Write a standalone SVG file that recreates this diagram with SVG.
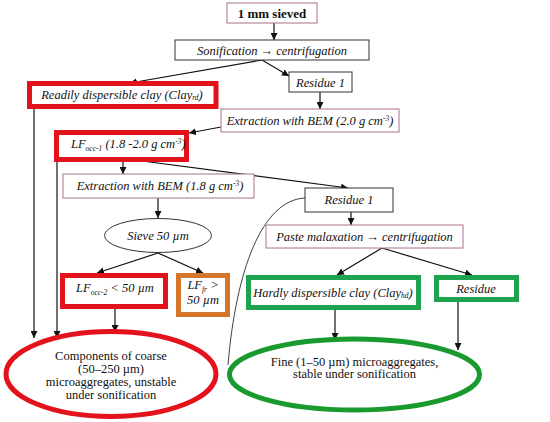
<svg xmlns="http://www.w3.org/2000/svg" width="550" height="422" viewBox="0 0 550 422">
<style>
.bx{fill:#fff;stroke:#a8708a;stroke-width:1}
.gb{fill:#fff;stroke:#333;stroke-width:1}
.red{fill:#fff;stroke:#e3121b;stroke-width:5}
.org{fill:#fff;stroke:#d5762a;stroke-width:5}
.grn{fill:#fff;stroke:#1fa34f;stroke-width:5}
text{font-family:'Liberation Serif','DejaVu Serif','Times New Roman',serif}
.t{font-style:italic;font-size:12.5px;fill:#111;text-anchor:middle}
.n{font-size:12.5px;fill:#111;text-anchor:middle}
.c line,.c path{stroke:#111;stroke-width:1.2;fill:none}
</style>
<defs>
<marker id="ah" viewBox="0 0 10 10" refX="10" refY="5" markerWidth="7" markerHeight="7" markerUnits="userSpaceOnUse" orient="auto">
<path d="M0,0 L10,5 L0,10 z" fill="#111"/>
</marker>
</defs>
<rect width="550" height="422" fill="#fff"/>
<g class="c">
<line x1="274" y1="23" x2="274" y2="40" marker-end="url(#ah)"/>
<line x1="262" y1="60" x2="130" y2="83" marker-end="url(#ah)"/>
<line x1="262" y1="60" x2="289" y2="76" marker-end="url(#ah)"/>
<line x1="320" y1="92" x2="320" y2="109" marker-end="url(#ah)"/>
<line x1="221" y1="127" x2="189" y2="133" marker-end="url(#ah)"/>
<line x1="34" y1="109" x2="34" y2="338" marker-end="url(#ah)"/>
<line x1="57" y1="162" x2="57" y2="338" marker-end="url(#ah)"/>
<line x1="123" y1="160" x2="123" y2="174" marker-end="url(#ah)"/>
<line x1="127" y1="159" x2="348" y2="188" marker-end="url(#ah)"/>
<line x1="158" y1="198" x2="158" y2="218" marker-end="url(#ah)"/>
<line x1="158" y1="253" x2="97" y2="273" marker-end="url(#ah)"/>
<line x1="158" y1="253" x2="203" y2="273" marker-end="url(#ah)"/>
<line x1="351" y1="212" x2="351" y2="225" marker-end="url(#ah)"/>
<line x1="115" y1="309" x2="115" y2="332" marker-end="url(#ah)"/>
<line x1="382" y1="248" x2="337" y2="275" marker-end="url(#ah)"/>
<line x1="382" y1="248" x2="472" y2="275" marker-end="url(#ah)"/>
<line x1="335" y1="310" x2="335" y2="340" marker-end="url(#ah)"/>
<line x1="458" y1="302" x2="458" y2="350" marker-end="url(#ah)"/>
<path d="M305,198 C262,200 236,270 228,365" style="stroke-width:0.8"/>
</g>
<g id="n1"><rect class="bx" x="227" y="3" width="90" height="20"/><text class="n" x="272" y="17.5" style="font-size:13px;font-weight:bold">1 mm sieved</text></g>
<g id="n2"><rect class="gb" x="175" y="40" width="194" height="20"/><text class="t" x="272" y="54.5">Sonification → centrifugation</text></g>
<g id="n3"><rect class="gb" x="289" y="72" width="63" height="20"/><text class="t" x="320.5" y="86.5">Residue 1</text></g>
<g id="n4"><rect class="red" x="29.5" y="83.5" width="186.5" height="23"/><text class="t" x="122" y="99">Readily dispersible clay (Clay<tspan font-size="7.5" dy="1">rd</tspan><tspan dy="-1">)</tspan></text></g>
<g id="n5"><rect class="bx" x="221" y="109" width="178" height="23"/><text class="t" x="310" y="124.5">Extraction with BEM (2.0 g cm<tspan font-size="7.5" dy="-4">-3</tspan><tspan dy="4">)</tspan></text></g>
<g id="n6"><rect class="red" x="56.5" y="132.5" width="130" height="27"/><text class="t" x="71" y="148" style="text-anchor:start">LF<tspan font-size="7.5" dy="3">occ-1</tspan><tspan dy="-3"> (1.8 -2.0 g cm</tspan><tspan font-size="7.5" dy="-4">-3</tspan><tspan dy="4">)</tspan></text></g>
<g id="n7"><rect class="bx" x="63" y="174" width="191" height="24"/><text class="t" x="160" y="190">Extraction with BEM (1.8 g cm<tspan font-size="7.5" dy="-4">-3</tspan><tspan dy="4">)</tspan></text></g>
<g id="n8"><rect class="gb" x="305" y="188" width="88" height="24"/><text class="t" x="349" y="204">Residue 1</text></g>
<g id="n9"><ellipse cx="158" cy="235.5" rx="53.5" ry="17" fill="#fff" stroke="#333" stroke-width="1"/><text class="t" x="158" y="240">Sieve 50 µm</text></g>
<g id="n10"><rect class="bx" x="266" y="225" width="197" height="23"/><text class="t" x="364.5" y="241">Paste malaxation → centrifugation</text></g>
<g id="n11"><rect class="red" x="62.5" y="275.5" width="103" height="31"/><text class="t" x="115" y="292">LF<tspan font-size="7.5" dy="3">occ-2</tspan><tspan dy="-3"> &lt; 50 µm</tspan></text></g>
<g id="n12"><rect class="org" x="178.5" y="275.5" width="49" height="39"/><text class="t" x="203" y="289">LF<tspan font-size="7.5" dy="3">fr</tspan><tspan dy="-3"> &gt;</tspan></text><text class="t" x="203" y="304">50 µm</text></g>
<g id="n13"><rect class="grn" x="248.5" y="277.5" width="170" height="30"/><text class="t" x="333" y="297">Hardly dispersible clay (Clay<tspan font-size="7.5" dy="1">hd</tspan><tspan dy="-1">)</tspan></text></g>
<g id="n14"><rect class="grn" x="436.5" y="277.5" width="80" height="22"/><text class="t" x="476" y="292.5">Residue</text></g>
<g id="n15"><ellipse cx="111" cy="374" rx="105" ry="42.5" fill="#fff" stroke="#e3121b" stroke-width="5"/><text class="n" x="111" y="359.5">Components of coarse</text><text class="n" x="111" y="372.5">(50–250 µm)</text><text class="n" x="111" y="385.5">microaggregates, unstable</text><text class="n" x="111" y="398.5">under sonification</text></g>
<g id="n16"><ellipse cx="354.5" cy="374.5" rx="125" ry="35.5" fill="#fff" stroke="#1a9a2e" stroke-width="5"/><text class="n" x="354.5" y="365.5">Fine (1–50 µm) microaggregates,</text><text class="n" x="354.5" y="378">stable under sonification</text></g>
</svg>
